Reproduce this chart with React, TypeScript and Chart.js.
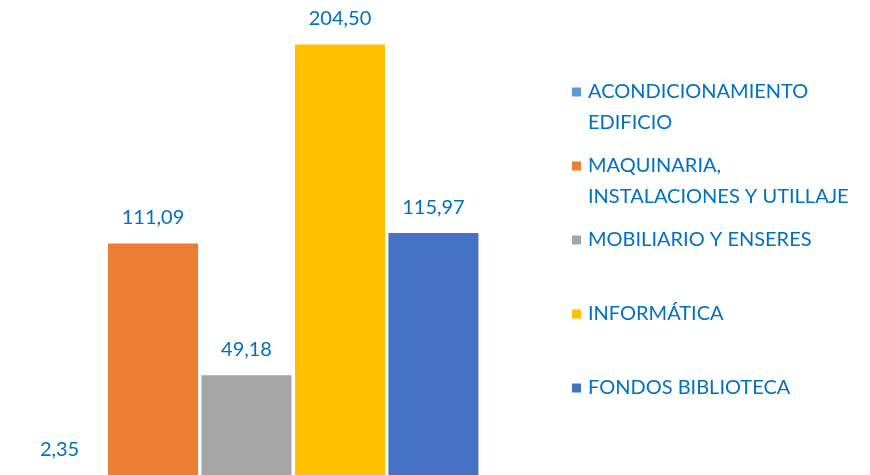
import React, { useEffect, useRef } from "react";
import { Chart, registerables } from "chart.js";

Chart.register(...registerables);

const categories = [""];
const seriesNames = [
  "ACONDICIONAMIENTO EDIFICIO",
  "MAQUINARIA, INSTALACIONES Y UTILLAJE",
  "MOBILIARIO Y ENSERES",
  "INFORMÁTICA",
  "FONDOS BIBLIOTECA",
];
const seriesValues = [2.35, 111.09, 49.18, 204.5, 115.97];
const seriesColors = ["#5B9BD5", "#ED7D31", "#A5A5A5", "#FFC000", "#4472C4"];

const TEXT_COLOR = "#0070C0";
const FONT_FAMILY = "Lato, 'Open Sans', sans-serif";

const fmt = (v: number) => v.toFixed(2).replace(".", ",");

const dataLabelPlugin = {
  id: "dataLabels",
  afterDatasetsDraw(chart: any) {
    const ctx = chart.ctx;
    ctx.save();
    ctx.font = `20px ${FONT_FAMILY}`;
    ctx.fillStyle = TEXT_COLOR;
    ctx.textAlign = "center";
    ctx.textBaseline = "alphabetic";
    chart.data.datasets.forEach((ds: any, i: number) => {
      const meta = chart.getDatasetMeta(i);
      meta.data.forEach((el: any, j: number) => {
        ctx.fillText(fmt(ds.data[j]), el.x, el.y - 19);
      });
    });
    ctx.restore();
  },
};

const sideLegendPlugin = {
  id: "sideLegend",
  afterDraw(chart: any) {
    const ctx = chart.ctx;
    const boxX = 572;
    const textX = 588;
    const startY = 92;
    const step = 74;
    const lineH = 31;
    const box = 9;
    const maxW = chart.width - textX - 8;
    ctx.save();
    ctx.font = `20px ${FONT_FAMILY}`;
    ctx.textAlign = "left";
    ctx.textBaseline = "middle";
    chart.data.datasets.forEach((ds: any, i: number) => {
      const y = startY + i * step;
      ctx.fillStyle = ds.backgroundColor;
      ctx.fillRect(boxX, y - box / 2, box, box);
      const words = String(ds.label).split(" ");
      const lines: string[] = [];
      let cur = "";
      words.forEach((w) => {
        const test = cur ? cur + " " + w : w;
        if (cur && ctx.measureText(test).width > maxW) {
          lines.push(cur);
          cur = w;
        } else {
          cur = test;
        }
      });
      if (cur) lines.push(cur);
      ctx.fillStyle = TEXT_COLOR;
      lines.forEach((ln, k) => ctx.fillText(ln, textX, y + k * lineH));
    });
    ctx.restore();
  },
};

export default function App() {
  const ref = useRef<HTMLCanvasElement>(null);
  useEffect(() => {
    if (!ref.current) return;
    const chart = new Chart(ref.current, {
      type: "bar",
      data: {
        labels: categories,
        datasets: seriesNames.map((name, i) => ({
          label: name,
          data: [seriesValues[i]],
          backgroundColor: seriesColors[i],
          borderWidth: 0,
          categoryPercentage: 0.948,
          barPercentage: 0.963,
        })),
      },
      options: {
        animation: false,
        responsive: false,
        layout: { padding: { left: 0, right: 377, top: 0, bottom: 0 } },
        plugins: {
          legend: { display: false },
          tooltip: { enabled: false },
        },
        scales: {
          x: { display: false, grid: { display: false } },
          y: { display: false, min: 2.35, max: 225.35, grid: { display: false } },
        },
      },
      plugins: [dataLabelPlugin, sideLegendPlugin],
    });
    return () => chart.destroy();
  }, []);
  return (
    <canvas
      ref={ref}
      width={870}
      height={475}
      style={{ position: "fixed", left: 0, top: 0, width: 870, height: 475 }}
    />
  );
}
